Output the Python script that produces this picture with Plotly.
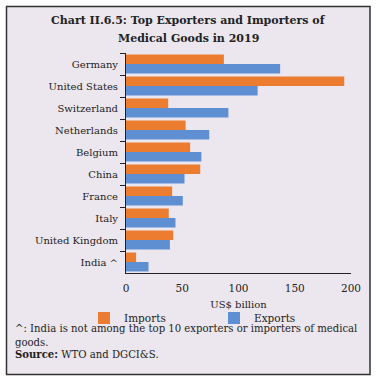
import plotly.graph_objects as go

countries = ["Germany", "United States", "Switzerland", "Netherlands", "Belgium",
             "China", "France", "Italy", "United Kingdom", "India ^"]
imports = [87, 194, 37.5, 53, 57, 66, 41, 38, 42, 9]
exports = [137, 117, 91, 74, 67, 52, 50.5, 44, 39, 20]
x_ticks = [0, 50, 100, 150, 200]

FONT = "DejaVu Serif"
BG = "#ECE7EE"
W, H = 376, 381
L, R, T, B = 126, 25, 53, 108
pw, ph = W - L - R, H - T - B

def px(x):
    return (x - L) / pw

def py(y):
    return (H - B - y) / ph

fig = go.Figure()
fig.add_trace(go.Bar(y=countries, x=imports, name="Imports", orientation="h",
                     marker=dict(color="#EC7C30", line=dict(width=0)), legend="legend"))
fig.add_trace(go.Bar(y=countries, x=exports, name="Exports", orientation="h",
                     marker=dict(color="#5E8FD3", line=dict(width=0)), legend="legend2"))

leg_common = dict(orientation="h", yanchor="middle", xanchor="left",
                  itemwidth=30, font=dict(family=FONT, size=10.5, color="#222"),
                  bgcolor="rgba(0,0,0,0)")

fig.update_layout(
    width=W, height=H,
    margin=dict(l=L, r=R, t=T, b=B, autoexpand=False),
    paper_bgcolor="white",
    plot_bgcolor="rgba(0,0,0,0)",
    barmode="group", bargap=0.14, bargroupgap=0,
    font=dict(family=FONT, size=10, color="#222"),
    showlegend=True,
    legend=dict(x=px(84), y=py(318), **leg_common),
    legend2=dict(x=px(214), y=py(318), **leg_common),
    xaxis=dict(range=[0, 200], tickvals=x_ticks, showgrid=False, zeroline=False,
               showline=True, linecolor="#222", linewidth=1, ticks="",
               tickfont=dict(family=FONT, size=10.5), automargin=False,
               ticklabelstandoff=5,
               title=dict(text="US$ billion", font=dict(family=FONT, size=10), standoff=8),
               fixedrange=True),
    yaxis=dict(autorange="reversed", showgrid=False, zeroline=False, showline=True,
               linecolor="#222", linewidth=1, ticks="outside", tickson="boundaries",
               ticklen=5, tickcolor="#222", tickfont=dict(family=FONT, size=10),
               ticklabelstandoff=5, automargin=False, fixedrange=True),
)

fig.add_shape(type="rect", xref="paper", yref="paper",
              x0=px(6.5), x1=px(370), y0=py(374.5), y1=py(6.5),
              fillcolor=BG, line=dict(color="#333", width=1.5), layer="below")

fig.add_annotation(xref="paper", yref="paper", x=px(188), y=py(21), xanchor="center",
                   yanchor="middle", showarrow=False,
                   text="<b>Chart II.6.5: Top Exporters and Importers of</b>",
                   font=dict(family=FONT, size=11, color="#222"))
fig.add_annotation(xref="paper", yref="paper", x=px(188), y=py(39), xanchor="center",
                   yanchor="middle", showarrow=False,
                   text="<b>Medical Goods in 2019</b>",
                   font=dict(family=FONT, size=11, color="#222"))

notes = [
    (329, "^: India is not among the top 10 exporters or importers of medical"),
    (342, "goods."),
    (354, "<b>Source:</b> WTO and DGCI&S."),
]
for y, t in notes:
    fig.add_annotation(xref="paper", yref="paper", x=px(13), y=py(y), xanchor="left",
                       yanchor="middle", showarrow=False, text=t,
                       font=dict(family=FONT, size=10.1, color="#222"))

fig.write_html("out.html", config={"displayModeBar": False},
               post_script="document.body.style.margin='0';document.body.style.overflow='hidden';")
